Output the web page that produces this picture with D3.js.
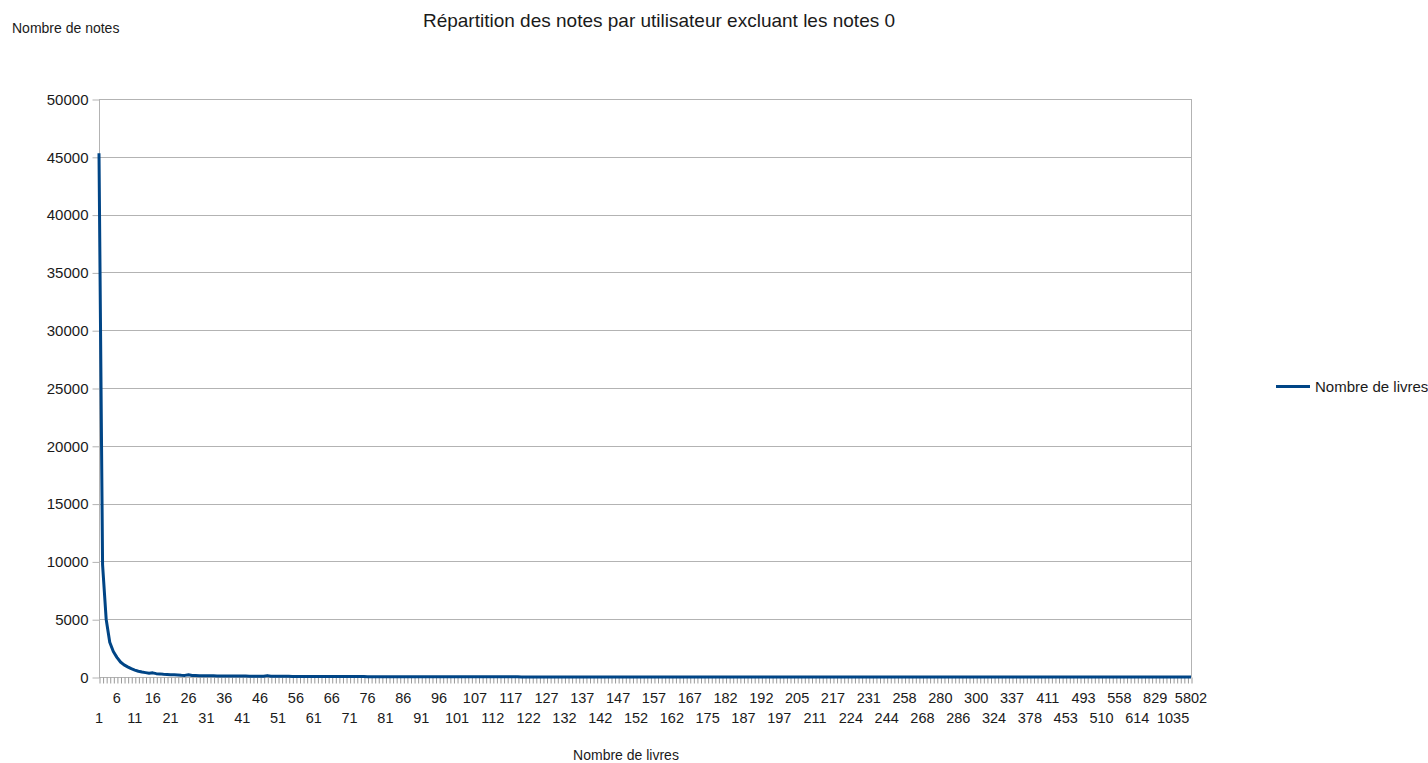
<!DOCTYPE html>
<html>
<head>
<meta charset="utf-8">
<script src="https://cdn.jsdelivr.net/npm/d3@7"></script>
<style>
  html, body { margin: 0; padding: 0; background: #fff; }
  svg { display: block; font-family: "Liberation Sans", Arial, sans-serif; }
</style>
</head>
<body>
<svg id="chart" width="1428" height="763"></svg>
<script>
// Number of books rated per user (x categories)
const categories = [
  1,2,3,4,5,6,7,8,9,10,11,12,13,14,15,16,17,18,19,20,
  21,22,23,24,25,26,27,28,29,30,31,32,33,34,35,36,37,38,39,40,
  41,42,43,44,45,46,47,48,49,50,51,52,53,54,55,56,57,58,59,60,
  61,62,63,64,65,66,67,68,69,70,71,72,73,74,75,76,77,78,79,80,
  81,82,83,84,85,86,87,88,89,90,91,92,93,94,95,96,97,98,99,100,
  101,102,103,104,105,107,108,109,110,111,112,113,114,115,116,117,118,119,120,121,
  122,123,124,125,126,127,128,129,130,131,132,133,134,135,136,137,138,139,140,141,
  142,143,144,145,146,147,148,149,150,151,152,153,154,155,156,157,158,159,160,161,
  162,163,164,165,166,167,168,169,171,173,175,176,177,178,180,182,183,184,185,186,
  187,188,189,190,191,192,193,194,195,196,197,198,199,200,202,205,206,207,208,210,
  211,212,213,214,216,217,218,219,221,222,224,225,226,228,230,231,233,235,238,241,
  244,246,249,252,255,258,260,262,264,266,268,270,272,275,278,280,281,282,283,285,
  286,288,291,294,297,300,304,309,314,319,324,326,329,332,335,337,342,350,360,370,
  378,385,391,398,404,411,418,425,433,442,453,460,468,476,484,493,497,500,503,507,
  510,518,527,536,547,558,567,578,590,601,614,640,680,730,780,829,860,900,950,990,
  1035,1100,1200,1500,2400,5802
];

// Number of users for each category ("Nombre de livres" series)
const nombreDeLivres = [
  45300,9700,5000,3000,2200,1700,1300,1050,880,720,600,500,430,380,330,360,290,270,240,220,
  200,185,170,150,140,190,130,120,115,110,105,100,98,95,92,90,88,85,82,80,
  78,76,74,72,70,68,66,120,64,62,60,58,57,55,54,52,51,50,48,47,
  46,45,44,43,42,41,40,39,38,37,36,35,34,33,33,32,31,30,30,29,
  28,28,27,26,26,25,25,24,23,23,22,22,21,21,20,20,19,19,18,18,
  17,17,16,16,15,15,15,14,14,13,13,13,12,12,12,11,11,11,10,10,
  10,10,9,9,9,9,8,8,8,8,7,7,7,7,7,6,6,6,6,6,
  5,5,5,5,5,5,4,4,4,4,4,4,4,3,3,3,3,3,3,3,
  3,3,3,3,2,2,2,2,2,2,2,2,2,2,2,2,2,2,2,2,
  2,2,2,2,1,2,2,1,2,1,2,2,1,2,1,1,2,1,1,2,
  1,1,1,2,1,1,1,1,2,1,1,1,1,1,2,1,1,1,1,1,
  1,2,1,1,1,1,1,1,1,2,1,1,1,1,1,1,1,1,1,1,
  2,1,1,1,1,1,1,1,1,1,1,1,1,1,1,1,1,1,1,1,
  1,1,1,1,1,1,1,1,1,1,1,1,1,1,1,1,1,1,1,1,
  1,1,1,1,1,1,1,1,1,1,1,1,1,1,1,1,1,1,1,1,
  1,1,1,1,1,1
];

const yTicks = [0,5000,10000,15000,20000,25000,30000,35000,40000,45000,50000];

const titleText = "Répartition des notes par utilisateur excluant les notes 0";
const yTitle = "Nombre de notes";
const xTitle = "Nombre de livres";
const seriesName = "Nombre de livres";

const plot = { left: 99, right: 1191, top: 99, bottom: 677 };
const lineColor = "#004586";
const gridColor = "#b3b3b3";
const tickColor = "#9a9a9a";
const textColor = "#1a1a1a";

const svg = d3.select("#chart");

const x = d3.scalePoint()
  .domain(categories.map((d, i) => i))
  .range([plot.left, plot.right])
  .padding(0);

const y = d3.scaleLinear()
  .domain([0, 50000])
  .range([plot.bottom, plot.top]);

// horizontal grid lines
svg.append("g")
  .selectAll("line")
  .data(yTicks)
  .join("line")
  .attr("x1", plot.left).attr("x2", plot.right)
  .attr("y1", d => Math.round(y(d)) + 0.5).attr("y2", d => Math.round(y(d)) + 0.5)
  .attr("stroke", gridColor).attr("stroke-width", 1);

// right edge of the plot wall
svg.append("line")
  .attr("x1", plot.right + 0.5).attr("x2", plot.right + 0.5)
  .attr("y1", plot.top).attr("y2", plot.bottom)
  .attr("stroke", gridColor);

// y axis
const yAxis = d3.axisLeft(y)
  .tickValues(yTicks)
  .tickSize(7)
  .tickPadding(4)
  .tickFormat(d3.format("d"));

const gy = svg.append("g")
  .attr("transform", `translate(${plot.left + 0.5},0.5)`)
  .call(yAxis);
gy.select(".domain").attr("stroke", gridColor).attr("d", `M0,${y(50000)}V${y(0)}`);
gy.selectAll(".tick line").attr("stroke", gridColor);
gy.selectAll(".tick text")
  .attr("fill", textColor)
  .style("font-size", "15px")
  .style("font-family", "'Liberation Sans', Arial, sans-serif");

// x axis: a tick for every category, label every fifth in two staggered rows
const xAxis = d3.axisBottom(x)
  .tickSize(6)
  .tickFormat("");

const gx = svg.append("g")
  .attr("transform", `translate(0.5,${plot.bottom + 0.5})`)
  .call(xAxis);
gx.select(".domain").attr("stroke", gridColor).attr("d", `M${plot.left},0H${plot.right}`);
gx.selectAll(".tick line").attr("stroke", tickColor);

const labelIdx = categories.map((d, i) => i).filter(i => i % 5 === 0);
svg.append("g")
  .selectAll("text")
  .data(labelIdx)
  .join("text")
  .attr("x", i => x(i))
  .attr("y", i => (i % 10 === 5 ? 703 : 723))
  .attr("text-anchor", "middle")
  .attr("fill", textColor)
  .style("font-size", "14.5px")
  .text(i => categories[i]);

// series line
const line = d3.line()
  .x((d, i) => x(i))
  .y(d => y(d));

svg.append("path")
  .datum(nombreDeLivres)
  .attr("fill", "none")
  .attr("stroke", lineColor)
  .attr("stroke-width", 3)
  .attr("stroke-linejoin", "round")
  .attr("d", line);

// titles
svg.append("text")
  .attr("x", 659).attr("y", 27)
  .attr("text-anchor", "middle")
  .attr("fill", textColor)
  .style("font-size", "19px")
  .text(titleText);

svg.append("text")
  .attr("x", 12).attr("y", 33)
  .attr("fill", textColor)
  .style("font-size", "14px")
  .text(yTitle);

svg.append("text")
  .attr("x", 626).attr("y", 760)
  .attr("text-anchor", "middle")
  .attr("fill", textColor)
  .style("font-size", "14px")
  .text(xTitle);

// legend
const legend = svg.append("g").attr("transform", "translate(1276,386)");
legend.append("line")
  .attr("x1", 0).attr("x2", 34).attr("y1", 0.5).attr("y2", 0.5)
  .attr("stroke", lineColor).attr("stroke-width", 3);
legend.append("text")
  .attr("x", 39).attr("y", 5.5)
  .attr("fill", textColor)
  .style("font-size", "15px")
  .text(seriesName);
</script>
</body>
</html>
